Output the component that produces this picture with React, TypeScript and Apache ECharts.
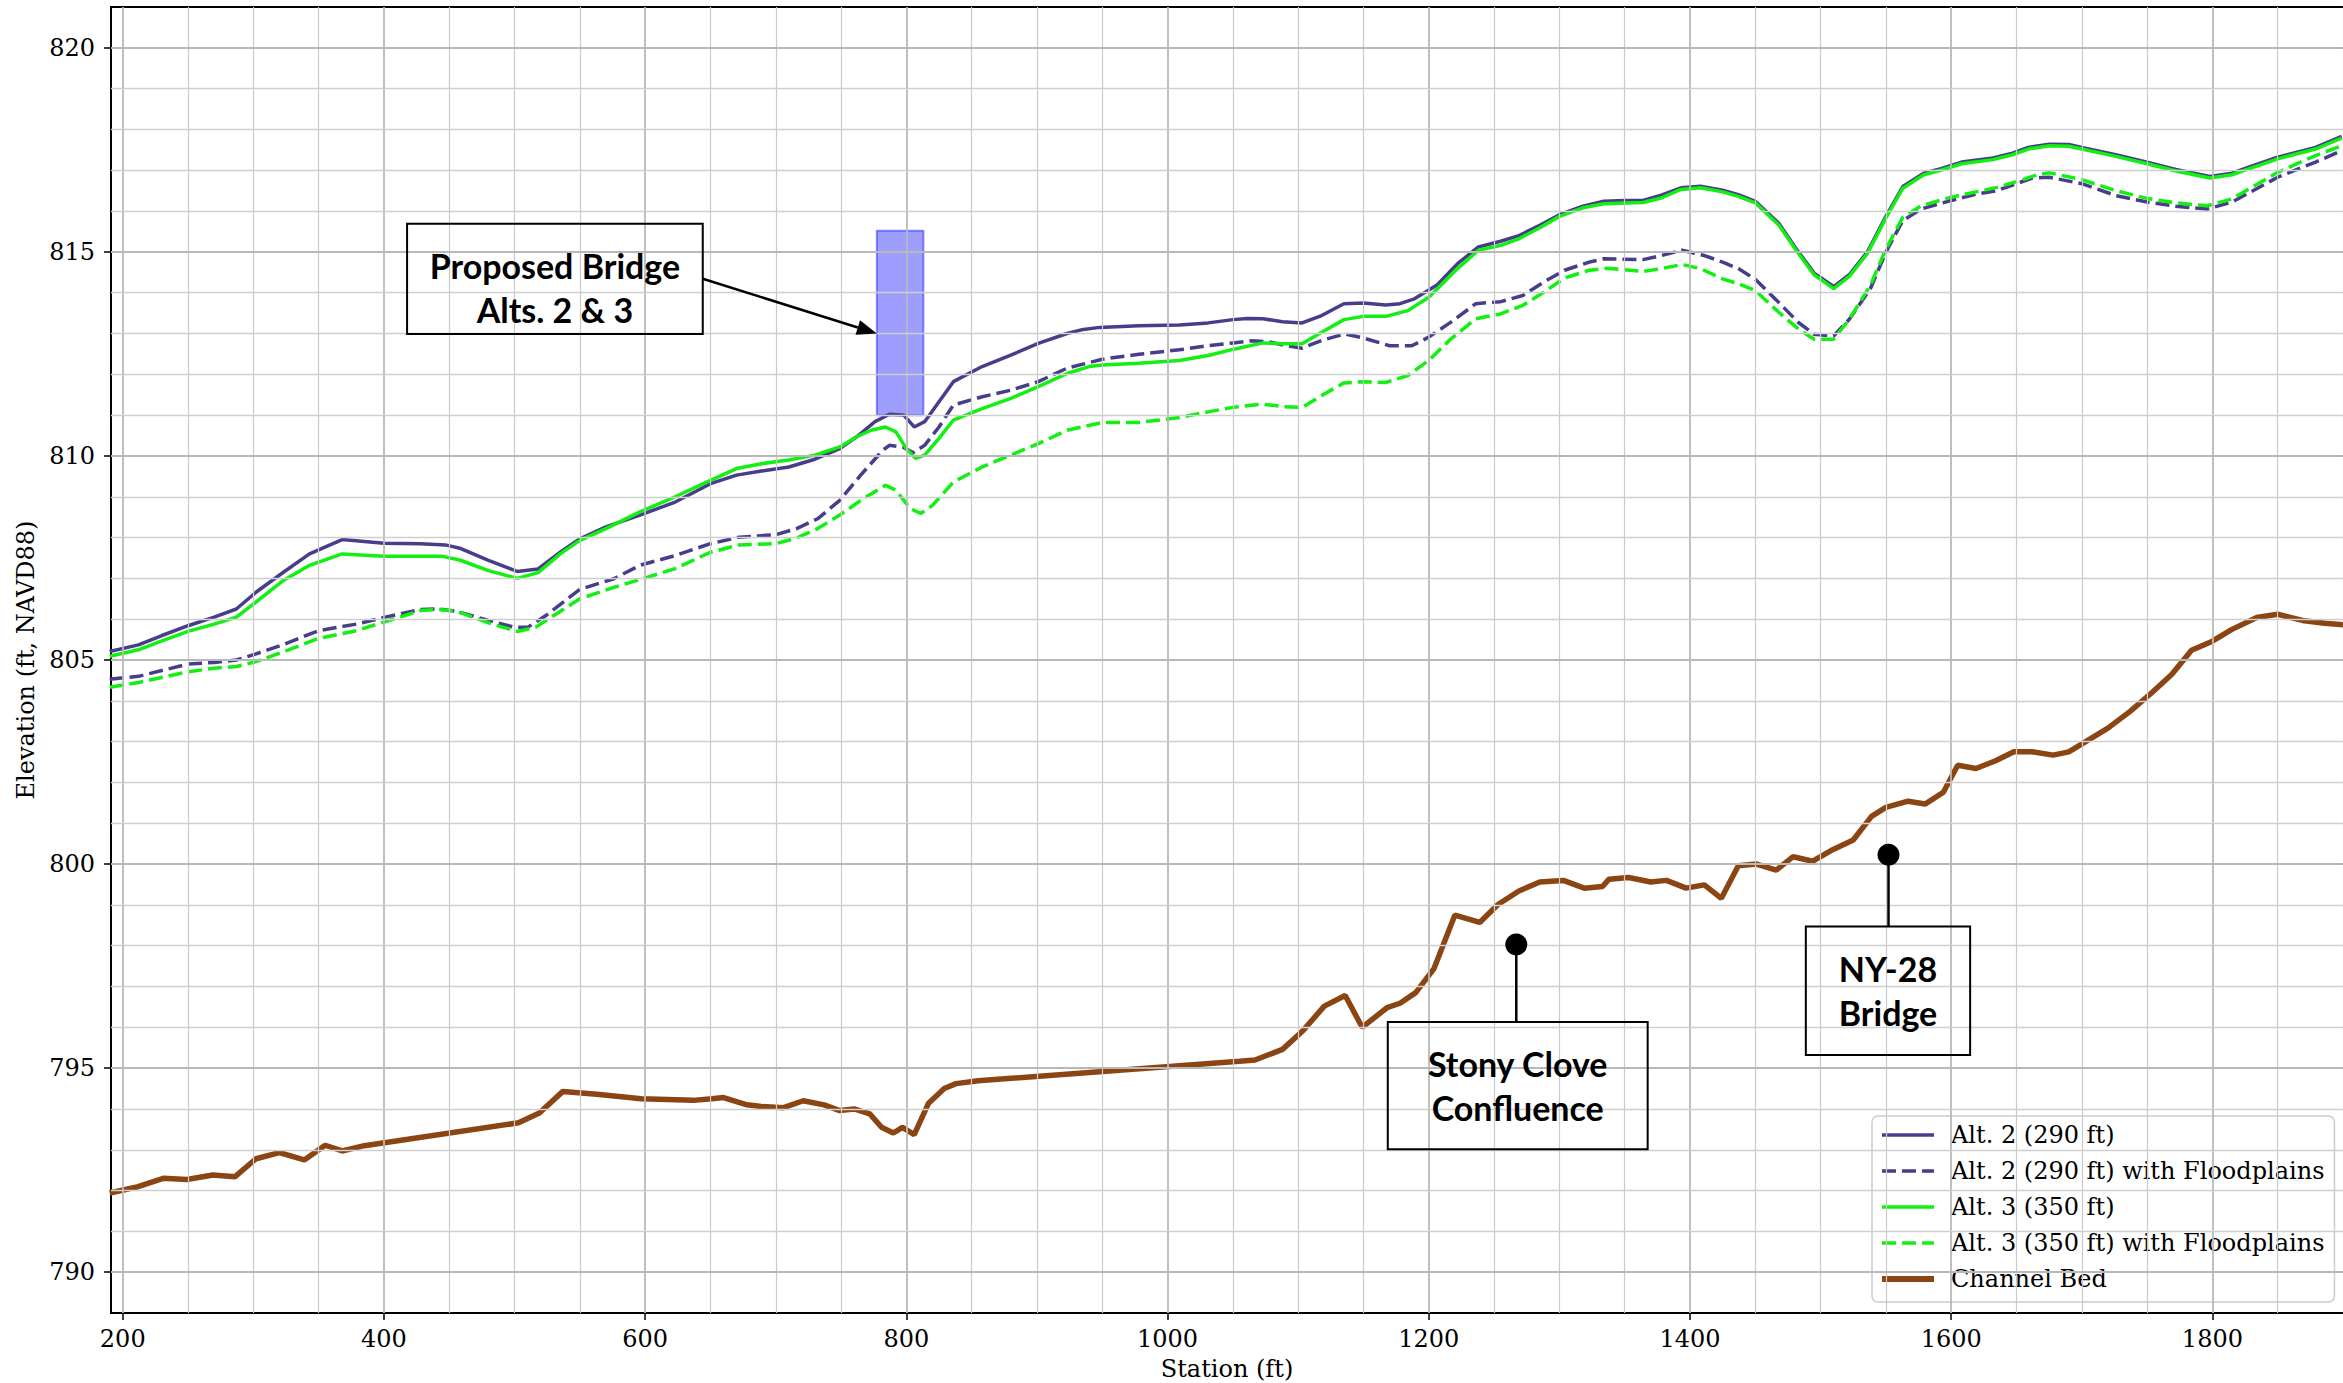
import React, { useEffect, useRef } from "react";
import * as echarts from "echarts";

// ---- Data (station ft, elevation ft NAVD88) ----
const alt2: [number, number][] = [
  [190, 805.21], [212, 805.37], [230, 805.6], [250, 805.84], [270, 806.05], [287, 806.25], [302, 806.66], [323, 807.15], [343, 807.6], [368, 807.95],
  [400, 807.86], [428, 807.85], [447, 807.82], [458, 807.74], [480, 807.44], [502, 807.17], [518, 807.23], [535, 807.64], [550, 807.97], [570, 808.26],
  [596, 808.55], [623, 808.87], [650, 809.32], [670, 809.53], [689, 809.63], [710, 809.73], [730, 809.92], [749, 810.18], [762, 810.47], [776, 810.84],
  [787, 811.02], [798, 811.0], [806, 810.71], [814, 810.84], [825, 811.33], [836, 811.82], [858, 812.19], [880, 812.47], [901, 812.76], [923, 813.0],
  [934, 813.09], [948, 813.15], [978, 813.19], [1009, 813.21], [1031, 813.26], [1050, 813.34], [1061, 813.37], [1073, 813.36], [1088, 813.29], [1103, 813.26],
  [1118, 813.44], [1135, 813.73], [1150, 813.75], [1167, 813.7], [1178, 813.73], [1189, 813.85], [1206, 814.18], [1222, 814.71], [1238, 815.12], [1255, 815.26],
  [1269, 815.4], [1285, 815.65], [1300, 815.91], [1318, 816.12], [1334, 816.24], [1350, 816.26], [1364, 816.26], [1378, 816.39], [1393, 816.57], [1408, 816.61],
  [1425, 816.51], [1437, 816.4], [1450, 816.24], [1468, 815.7], [1481, 815.09], [1495, 814.48], [1510, 814.15], [1522, 814.44], [1536, 815.01], [1550, 815.87],
  [1563, 816.6], [1579, 816.93], [1592, 817.04], [1608, 817.2], [1632, 817.3], [1647, 817.42], [1659, 817.56], [1675, 817.64], [1690, 817.63], [1700, 817.56],
  [1726, 817.38], [1750, 817.2], [1772, 817.02], [1798, 816.85], [1815, 816.93], [1830, 817.1], [1850, 817.32], [1879, 817.56], [1899, 817.83],
];

const alt2Floodplains: [number, number][] = [
  [190, 804.53], [212, 804.6], [250, 804.9], [270, 804.94], [287, 805.0], [302, 805.15], [324, 805.39], [350, 805.72], [379, 805.88], [401, 806.05],
  [428, 806.24], [442, 806.25], [456, 806.19], [480, 805.97], [500, 805.8], [510, 805.8], [524, 806.09], [550, 806.73], [576, 806.99], [596, 807.32],
  [623, 807.56], [650, 807.85], [672, 808.01], [700, 808.07], [716, 808.22], [732, 808.46], [749, 808.91], [765, 809.53], [782, 810.14], [787, 810.26],
  [798, 810.21], [805, 810.08], [814, 810.26], [825, 810.71], [836, 811.25], [858, 811.45], [880, 811.61], [901, 811.82], [923, 812.15], [950, 812.37],
  [978, 812.49], [1009, 812.6], [1031, 812.7], [1050, 812.77], [1064, 812.82], [1077, 812.8], [1091, 812.7], [1103, 812.64], [1118, 812.83], [1136, 812.99],
  [1151, 812.88], [1170, 812.7], [1187, 812.7], [1200, 812.91], [1217, 813.28], [1236, 813.73], [1255, 813.78], [1272, 813.93], [1288, 814.26], [1304, 814.55],
  [1323, 814.75], [1334, 814.83], [1364, 814.81], [1378, 814.91], [1394, 815.04], [1411, 814.91], [1425, 814.75], [1437, 814.59], [1450, 814.33], [1468, 813.76],
  [1483, 813.27], [1495, 812.98], [1510, 812.94], [1522, 813.35], [1538, 814.09], [1550, 814.99], [1563, 815.77], [1577, 816.05], [1600, 816.26], [1620, 816.42],
  [1635, 816.5], [1650, 816.67], [1662, 816.81], [1675, 816.83], [1700, 816.67], [1726, 816.38], [1750, 816.22], [1772, 816.12], [1796, 816.05], [1815, 816.22],
  [1850, 816.83], [1879, 817.2], [1899, 817.48],
];

const alt3: [number, number][] = [
  [190, 805.09], [212, 805.25], [230, 805.47], [250, 805.7], [270, 805.88], [287, 806.05], [302, 806.42], [323, 806.95], [343, 807.32], [368, 807.6],
  [400, 807.54], [428, 807.54], [445, 807.54], [458, 807.45], [480, 807.19], [502, 807.0], [518, 807.14], [535, 807.6], [550, 807.93], [570, 808.22],
  [596, 808.63], [623, 809.0], [650, 809.4], [670, 809.69], [689, 809.81], [710, 809.9], [730, 810.02], [749, 810.22], [762, 810.47], [773, 810.63],
  [784, 810.71], [792, 810.59], [800, 810.18], [807, 809.94], [814, 810.02], [825, 810.43], [836, 810.88], [858, 811.16], [880, 811.41], [901, 811.7],
  [923, 812.02], [940, 812.19], [950, 812.23], [978, 812.27], [1009, 812.34], [1031, 812.46], [1050, 812.61], [1073, 812.77], [1088, 812.75], [1103, 812.75],
  [1118, 813.03], [1135, 813.34], [1150, 813.42], [1167, 813.42], [1184, 813.56], [1200, 813.89], [1222, 814.59], [1238, 815.04], [1255, 815.16], [1269, 815.32],
  [1285, 815.59], [1300, 815.87], [1318, 816.08], [1334, 816.18], [1364, 816.21], [1378, 816.32], [1393, 816.53], [1408, 816.57], [1425, 816.47], [1437, 816.36],
  [1450, 816.2], [1468, 815.66], [1481, 815.05], [1495, 814.44], [1510, 814.1], [1522, 814.4], [1536, 814.97], [1550, 815.83], [1563, 816.56], [1579, 816.89],
  [1592, 817.0], [1608, 817.16], [1632, 817.26], [1647, 817.38], [1659, 817.52], [1675, 817.6], [1690, 817.59], [1700, 817.52], [1726, 817.34], [1750, 817.16],
  [1772, 816.98], [1798, 816.81], [1815, 816.89], [1830, 817.06], [1850, 817.28], [1879, 817.52], [1899, 817.79],
];

const alt3Floodplains: [number, number][] = [
  [190, 804.33], [212, 804.45], [250, 804.71], [270, 804.8], [287, 804.84], [302, 804.96], [327, 805.25], [350, 805.53], [379, 805.72], [401, 805.94],
  [428, 806.21], [442, 806.24], [456, 806.19], [480, 805.91], [502, 805.7], [516, 805.8], [550, 806.5], [576, 806.78], [596, 806.97], [623, 807.24],
  [650, 807.64], [672, 807.82], [700, 807.85], [716, 807.99], [732, 808.22], [749, 808.55], [765, 808.91], [784, 809.28], [792, 809.16], [803, 808.71],
  [811, 808.59], [820, 808.79], [836, 809.36], [858, 809.73], [880, 810.02], [901, 810.3], [923, 810.63], [950, 810.82], [978, 810.82], [1009, 810.94],
  [1031, 811.08], [1050, 811.19], [1072, 811.27], [1088, 811.21], [1103, 811.19], [1118, 811.48], [1135, 811.79], [1150, 811.82], [1167, 811.8], [1184, 811.97],
  [1200, 812.34], [1217, 812.87], [1236, 813.36], [1255, 813.48], [1272, 813.69], [1288, 814.01], [1304, 814.36], [1323, 814.55], [1337, 814.6], [1364, 814.52],
  [1378, 814.59], [1394, 814.69], [1408, 814.59], [1425, 814.34], [1437, 814.22], [1450, 814.05], [1468, 813.52], [1483, 813.11], [1495, 812.86], [1510, 812.86],
  [1522, 813.35], [1538, 814.17], [1550, 815.07], [1563, 815.85], [1577, 816.13], [1600, 816.34], [1635, 816.58], [1650, 816.72], [1666, 816.89], [1675, 816.94],
  [1700, 816.77], [1726, 816.5], [1750, 816.31], [1772, 816.2], [1796, 816.13], [1815, 816.3], [1850, 816.95], [1879, 817.36], [1899, 817.6],
];

const channelBed: [number, number][] = [
  [190, 791.94], [210, 792.08], [231, 792.3], [249, 792.27], [269, 792.38], [286, 792.34], [302, 792.78], [320, 792.93], [339, 792.75], [355, 793.11],
  [368, 792.97], [385, 793.1], [503, 793.66], [519, 793.9], [537, 794.43], [563, 794.36], [597, 794.25], [637, 794.21], [651, 794.25], [660, 794.28],
  [678, 794.1], [689, 794.06], [706, 794.03], [721, 794.2], [737, 794.1], [749, 793.96], [760, 794.0], [772, 793.88], [781, 793.55], [790, 793.41],
  [797, 793.55], [806, 793.37], [817, 794.14], [829, 794.5], [838, 794.62], [855, 794.69], [1055, 795.17], [1067, 795.2], [1088, 795.46], [1104, 795.93],
  [1120, 796.52], [1136, 796.78], [1149, 796.0], [1168, 796.48], [1178, 796.59], [1190, 796.85], [1204, 797.44], [1220, 798.75], [1239, 798.57], [1253, 799.01],
  [1269, 799.34], [1285, 799.56], [1303, 799.6], [1319, 799.41], [1333, 799.45], [1338, 799.63], [1353, 799.67], [1370, 799.56], [1382, 799.6], [1397, 799.41],
  [1411, 799.49], [1424, 799.16], [1437, 799.96], [1451, 800.0], [1466, 799.85], [1479, 800.18], [1494, 800.07], [1508, 800.33], [1525, 800.59], [1539, 801.17],
  [1550, 801.39], [1567, 801.54], [1580, 801.47], [1594, 801.76], [1605, 802.42], [1619, 802.34], [1634, 802.53], [1648, 802.75], [1662, 802.75], [1678, 802.67],
  [1690, 802.75], [1703, 803.0], [1720, 803.33], [1737, 803.74], [1754, 804.21], [1769, 804.65], [1784, 805.24], [1800, 805.46], [1815, 805.75], [1834, 806.04],
  [1850, 806.12], [1869, 805.97], [1886, 805.9], [1901, 805.86],
];

// Proposed bridge extent [station start, station end], [bottom elev, top elev]
const bridgeStations = [777.4, 813.0];
const bridgeElevations = [811.0, 815.52];

// Annotation markers (dot positions)
const markerPoints: [number, number][] = [[1267, 798.03], [1552, 800.23]];

const xTicks = [200, 400, 600, 800, 1000, 1200, 1400, 1600, 1800];
const yTicks = [790, 795, 800, 805, 810, 815, 820];

const X_MIN = 191;
const X_MAX = 1900;
const Y_MIN = 789;
const Y_MAX = 821;

const SERIF = "DejaVu Serif";
const PURPLE = "#483d8b";
const GREEN = "#11f011";
const BROWN = "#8b4513";
const DASH = [14, 6];

export default function App() {
  const ref = useRef<HTMLDivElement>(null);

  useEffect(() => {
    if (!ref.current) return;
    const chart = echarts.init(ref.current, null, { renderer: "svg" });

    const gridLines: any[] = [];
    for (let x = 200; x <= 1900; x += 50) {
      const major = x % 200 === 0;
      gridLines.push({
        xAxis: x,
        lineStyle: { color: major ? "#b8b8b8" : "#cacaca", width: major ? 1.8 : 1.2, type: "solid" },
      });
    }
    for (let y = 790; y <= 820; y += 1) {
      const major = y % 5 === 0;
      gridLines.push({
        yAxis: y,
        lineStyle: { color: major ? "#b8b8b8" : "#cfcfcf", width: major ? 2.2 : 1.3, type: "solid" },
      });
    }

    const axisFont = { fontFamily: SERIF, fontSize: 24, color: "#000" };
    const plain = (v: number) => String(v);

    const legendItem = (name: string, color: string, width: number, dashed: boolean) => ({
      name,
      itemStyle: { opacity: 0 },
      lineStyle: { color, width, type: dashed ? DASH : "solid", opacity: 1 },
    });

    const option: any = {
      animation: false,
      backgroundColor: "#fff",
      grid: { left: 111, right: 0, top: 7, bottom: 70, containLabel: false, outerBoundsMode: "none" },
      xAxis: [
        {
          type: "value",
          min: X_MIN,
          max: X_MAX,
          position: "bottom",
          name: "Station (ft)",
          nameLocation: "middle",
          nameGap: 42,
          nameTextStyle: { ...axisFont, lineHeight: 26 },
          axisLine: { show: true, onZero: false, lineStyle: { color: "#000", width: 2 } },
          axisTick: { show: true, length: 7, customValues: xTicks, lineStyle: { color: "#000", width: 1.5 } },
          axisLabel: { show: true, customValues: xTicks, margin: 14, formatter: plain, ...axisFont },
          splitLine: { show: false },
        },
        {
          type: "value",
          min: X_MIN,
          max: X_MAX,
          position: "top",
          axisLine: { show: true, onZero: false, lineStyle: { color: "#000", width: 2 } },
          axisTick: { show: false },
          axisLabel: { show: false },
          splitLine: { show: false },
        },
      ],
      yAxis: {
        type: "value",
        min: Y_MIN,
        max: Y_MAX,
        name: "Elevation (ft, NAVD88)",
        nameLocation: "middle",
        nameGap: 72,
        nameTextStyle: axisFont,
        axisLine: { show: true, onZero: false, lineStyle: { color: "#000", width: 2 } },
        axisTick: { show: true, length: 7, customValues: yTicks, lineStyle: { color: "#000", width: 1.5 } },
        axisLabel: { show: true, customValues: yTicks, margin: 16, formatter: plain, ...axisFont },
        splitLine: { show: false },
      },
      legend: {
        orient: "vertical",
        left: 1872,
        top: 1116,
        itemWidth: 52,
        itemHeight: 14,
        itemGap: 10,
        padding: [6, 10, 10, 7],
        backgroundColor: "rgba(255,255,255,0.85)",
        borderColor: "#cccccc",
        borderWidth: 1.5,
        borderRadius: 6,
        selectedMode: false,
        itemStyle: { opacity: 0 },
        textStyle: { fontFamily: SERIF, fontSize: 24, color: "#000", lineHeight: 26, padding: [0, 0, 0, 12] },
        data: [
          legendItem("Alt. 2 (290 ft)", PURPLE, 3.5, false),
          legendItem("Alt. 2 (290 ft) with Floodplains", PURPLE, 3.5, true),
          legendItem("Alt. 3 (350 ft)", GREEN, 3.5, false),
          legendItem("Alt. 3 (350 ft) with Floodplains", GREEN, 3.5, true),
          legendItem("Channel Bed", BROWN, 6, false),
        ],
      },
      series: [
        {
          type: "line",
          data: [],
          silent: true,
          z: 1,
          markLine: {
            silent: true,
            symbol: ["none", "none"],
            label: { show: false },
            animation: false,
            data: gridLines,
          },
          markArea: {
            silent: true,
            itemStyle: { color: "rgba(40,40,255,0.45)", borderColor: "rgba(60,60,255,0.6)", borderWidth: 2 },
            data: [[
              { xAxis: bridgeStations[0], yAxis: bridgeElevations[0] },
              { xAxis: bridgeStations[1], yAxis: bridgeElevations[1] },
            ]],
          },
        },
        {
          name: "Alt. 2 (290 ft)",
          type: "line",
          data: alt2,
          symbol: "none",
          z: 2,
          lineStyle: { color: PURPLE, width: 3.5 },
          itemStyle: { color: PURPLE },
        },
        {
          name: "Alt. 2 (290 ft) with Floodplains",
          type: "line",
          data: alt2Floodplains,
          symbol: "none",
          z: 2,
          lineStyle: { color: PURPLE, width: 3.5, type: DASH },
          itemStyle: { color: PURPLE },
        },
        {
          name: "Alt. 3 (350 ft)",
          type: "line",
          data: alt3,
          symbol: "none",
          z: 2,
          lineStyle: { color: GREEN, width: 3.5 },
          itemStyle: { color: GREEN },
        },
        {
          name: "Alt. 3 (350 ft) with Floodplains",
          type: "line",
          data: alt3Floodplains,
          symbol: "none",
          z: 2,
          lineStyle: { color: GREEN, width: 3.5, type: DASH },
          itemStyle: { color: GREEN },
        },
        {
          name: "Channel Bed",
          type: "line",
          data: channelBed,
          symbol: "none",
          z: 2,
          lineStyle: { color: BROWN, width: 5.5 },
          itemStyle: { color: BROWN },
        },
        {
          type: "scatter",
          data: markerPoints,
          symbol: "circle",
          symbolSize: 22,
          z: 6,
          silent: true,
          itemStyle: { color: "#000", opacity: 1 },
        },
      ],
    };

    chart.setOption(option);

    const px = (x: number, y: number) =>
      chart.convertToPixel({ xAxisIndex: 0, yAxisIndex: 0 }, [x, y]) as number[];

    const boxes = [
      { text: "Proposed Bridge\nAlts. 2 & 3", left: 417.7, right: 644.1, top: 815.69, bottom: 812.99, dy: 9, anchor: null as null | [number, number] },
      { text: "Stony Clove\nConfluence", left: 1168.6, right: 1367.6, top: 796.13, bottom: 793.01, dy: 0, anchor: markerPoints[0] },
      { text: "NY-28\nBridge", left: 1488.7, right: 1614.5, top: 798.47, bottom: 795.32, dy: 0, anchor: markerPoints[1] },
    ];

    const graphics: any[] = [];
    boxes.forEach((b) => {
      const tl = px(b.left, b.top);
      const br = px(b.right, b.bottom);
      graphics.push({
        type: "rect",
        z: 20,
        shape: { x: tl[0], y: tl[1], width: br[0] - tl[0], height: br[1] - tl[1] },
        style: { fill: "none", stroke: "#000", lineWidth: 2 },
        silent: true,
      });
      graphics.push({
        type: "text",
        z: 21,
        x: (tl[0] + br[0]) / 2,
        y: (tl[1] + br[1]) / 2 + b.dy,
        style: {
          text: b.text,
          fill: "#000",
          font: "bold 34px Lato",
          align: "center",
          verticalAlign: "middle",
          lineHeight: 44,
        },
        silent: true,
      });
      if (b.anchor) {
        const d = px(b.anchor[0], b.anchor[1]);
        graphics.push({
          type: "line",
          z: 20,
          shape: { x1: d[0], y1: d[1], x2: d[0], y2: tl[1] },
          style: { stroke: "#000", lineWidth: 2.5 },
          silent: true,
        });
      }
    });

    // Arrow from the proposed bridge label to the bridge rectangle
    const a0 = px(644.1, 814.34);
    const a1 = px(bridgeStations[0], 813.0);
    const dx = a1[0] - a0[0];
    const dyA = a1[1] - a0[1];
    const len = Math.sqrt(dx * dx + dyA * dyA);
    const ux = dx / len;
    const uy = dyA / len;
    const headLen = 20;
    const headHalf = 7.5;
    const bx = a1[0] - ux * headLen;
    const by = a1[1] - uy * headLen;
    graphics.push({
      type: "line",
      z: 20,
      shape: { x1: a0[0], y1: a0[1], x2: bx, y2: by },
      style: { stroke: "#000", lineWidth: 2.5 },
      silent: true,
    });
    graphics.push({
      type: "polygon",
      z: 20,
      shape: {
        points: [
          [a1[0], a1[1]],
          [bx - uy * headHalf, by + ux * headHalf],
          [bx + uy * headHalf, by - ux * headHalf],
        ],
      },
      style: { fill: "#000" },
      silent: true,
    });

    chart.setOption({ graphic: graphics });

    return () => chart.dispose();
  }, []);

  return (
    <div
      ref={ref}
      style={{ position: "fixed", left: 0, top: 0, width: 2343, height: 1383, background: "#fff" }}
    />
  );
}
